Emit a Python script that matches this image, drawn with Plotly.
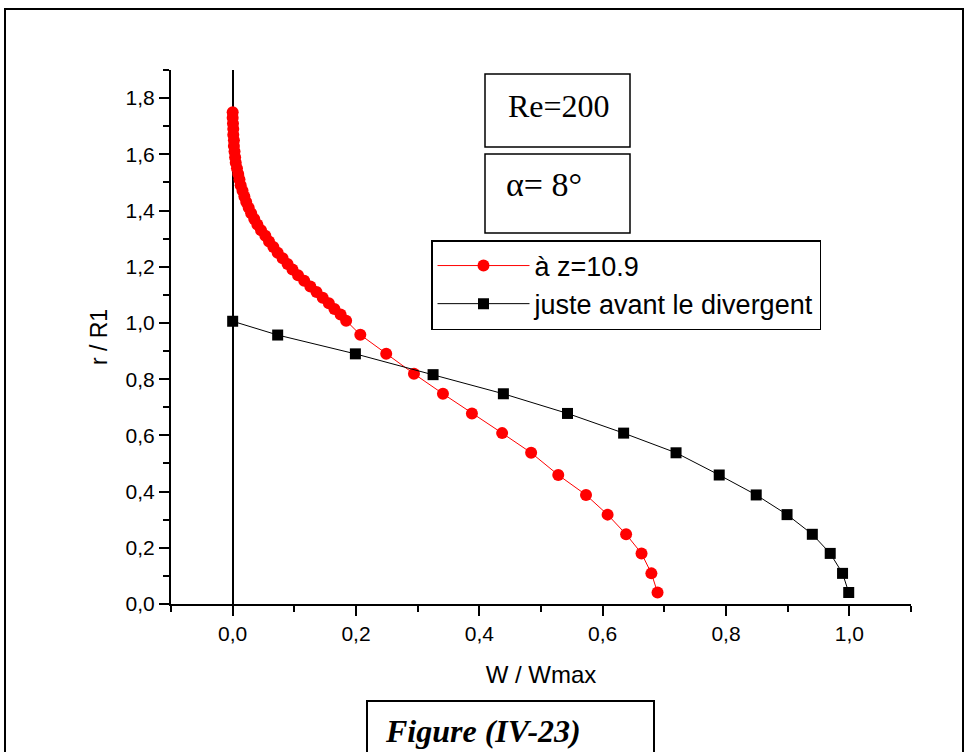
import plotly.graph_objects as go

# ---- data ----
# series 1: "à z=10.9"  (W/Wmax, r/R1)
w_red = [0.689, 0.679, 0.663, 0.638, 0.608, 0.573, 0.528, 0.484, 0.437, 0.388,
         0.341, 0.294, 0.249, 0.207, 0.184, 0.175, 0.165, 0.156, 0.146, 0.136,
         0.126, 0.116, 0.106, 0.097, 0.089, 0.081, 0.073, 0.066, 0.059, 0.053,
         0.046, 0.040, 0.035, 0.030, 0.026, 0.022, 0.019, 0.016, 0.013, 0.011,
         0.009, 0.007, 0.005, 0.004, 0.003, 0.002, 0.002, 0.001, 0.001, 0.0005,
         0.000, 0.000]
r_red = [0.041, 0.109, 0.180, 0.248, 0.318, 0.388, 0.459, 0.538, 0.608, 0.678,
         0.748, 0.819, 0.890, 0.958, 1.008, 1.03, 1.05, 1.07, 1.09, 1.11,
         1.13, 1.15, 1.17, 1.19, 1.21, 1.23, 1.25, 1.27, 1.29, 1.31,
         1.33, 1.35, 1.37, 1.39, 1.41, 1.43, 1.45, 1.47, 1.49, 1.51,
         1.53, 1.55, 1.57, 1.59, 1.61, 1.63, 1.65, 1.67, 1.69, 1.71,
         1.73, 1.75]

# series 2: "juste avant le divergent"
w_black = [0.999, 0.989, 0.969, 0.940, 0.899, 0.849, 0.789, 0.719, 0.634, 0.543,
           0.439, 0.325, 0.199, 0.073, 0.000]
r_black = [0.041, 0.109, 0.180, 0.248, 0.318, 0.388, 0.459, 0.538, 0.608, 0.678,
           0.748, 0.816, 0.890, 0.957, 1.006]

name_red = "à z=10.9"
name_black = "juste avant le divergent"
x_title = "W / Wmax"
y_title = "r / R1"
x_ticks = [0.0, 0.2, 0.4, 0.6, 0.8, 1.0]
y_ticks = [0.0, 0.2, 0.4, 0.6, 0.8, 1.0, 1.2, 1.4, 1.6, 1.8]
label_re = "Re=200"
label_alpha = "α= 8°"
label_fig = "<b><i>Figure (IV-23)</i></b>"

SANS = "Liberation Sans, Arial, sans-serif"
SERIF = "Liberation Serif, Times New Roman, serif"

fig = go.Figure()
fig.add_trace(go.Scatter(
    x=w_red, y=r_red, mode="lines+markers", name=name_red,
    line=dict(color="#ff0000", width=1),
    marker=dict(symbol="circle", size=12, color="#ff0000", line=dict(width=0)),
))
fig.add_trace(go.Scatter(
    x=w_black, y=r_black, mode="lines+markers", name=name_black,
    line=dict(color="#000000", width=1),
    marker=dict(symbol="square", size=11, color="#000000", line=dict(width=0)),
))

W, H = 965, 752
L, R, T, B = 171, 54, 70, 148
pw, ph = W - L - R, H - T - B


def px(x):
    return (x - L) / pw


def py(y):
    return (H - B - y) / ph


axis_common = dict(
    showline=True, linecolor="black", linewidth=2, mirror=False,
    ticks="outside", ticklen=10, tickwidth=2, tickcolor="black",
    showgrid=False, tickformat=".1f",
    tickfont=dict(family=SANS, size=21, color="black"),
    minor=dict(ticks="outside", ticklen=6, tickwidth=2, tickcolor="black", dtick=0.1, showgrid=False),
)

fig.update_xaxes(
    range=[-0.1, 1.1], tickvals=x_ticks, **axis_common,
    zeroline=True, zerolinecolor="black", zerolinewidth=2,
    title=dict(text=x_title, font=dict(family=SANS, size=24, color="black"), standoff=22),
)
fig.update_yaxes(
    range=[0, 1.9], tickvals=y_ticks, **axis_common, zeroline=False,
    title=dict(text=y_title, font=dict(family=SANS, size=23, color="black"), standoff=12),
)

shapes = [
    # outer frame
    dict(type="rect", xref="paper", yref="paper", x0=px(5), x1=px(963), y0=py(790), y1=py(9),
         line=dict(color="black", width=2)),
    # Re box
    dict(type="rect", xref="paper", yref="paper", x0=px(485), x1=px(630), y0=py(147), y1=py(74),
         line=dict(color="black", width=1.5)),
    # alpha box
    dict(type="rect", xref="paper", yref="paper", x0=px(485), x1=px(630), y0=py(233), y1=py(154),
         line=dict(color="black", width=1.5)),
    # figure caption box
    dict(type="rect", xref="paper", yref="paper", x0=px(367), x1=px(654), y0=py(790), y1=py(701),
         line=dict(color="black", width=2)),
]

annotations = [
    dict(text=label_re, xref="paper", yref="paper", x=px(506), y=py(106), xanchor="left", yanchor="middle",
         showarrow=False, font=dict(family=SERIF, size=32, color="black")),
    dict(text=label_alpha, xref="paper", yref="paper", x=px(504), y=py(184), xanchor="left", yanchor="middle",
         showarrow=False, font=dict(family=SERIF, size=34, color="black")),
    dict(text=label_fig, xref="paper", yref="paper", x=px(383), y=py(731), xanchor="left", yanchor="middle",
         showarrow=False, font=dict(family=SERIF, size=32, color="black")),
]

fig.update_layout(
    width=W, height=H, autosize=False,
    margin=dict(l=L, r=R, t=T, b=B, pad=0),
    paper_bgcolor="white", plot_bgcolor="white",
    separators=", ",
    showlegend=True,
    legend=dict(
        x=px(431), y=py(240), xanchor="left", yanchor="top",
        bordercolor="black", borderwidth=1.5, bgcolor="white",
        font=dict(family=SANS, size=27, color="black"),
        itemwidth=92, tracegroupgap=0,
    ),
    shapes=shapes, annotations=annotations,
)

fig.write_html("out.html")
